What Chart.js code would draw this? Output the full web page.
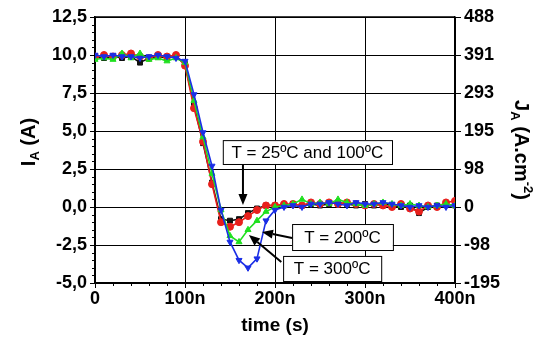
<!DOCTYPE html>
<html>
<head>
<meta charset="utf-8">
<script src="https://cdn.jsdelivr.net/npm/chart.js@4.4.1/dist/chart.umd.min.js"></script>
<style>
  html, body { margin: 0; background: #fff; }
  #wrap { width: 545px; height: 341px; position: relative; }
</style>
</head>
<body>
<div id="wrap"><canvas id="graficoCorrente"></canvas></div>
<script>
// tempo in ns
const times = [0, 10, 20, 30, 40, 50, 60, 70, 80, 90,
  100, 110, 120, 130, 140, 150, 160, 170, 180, 190, 200,
  210, 220, 230, 240, 250, 260, 270, 280, 290, 300,
  310, 320, 330, 340, 350, 360, 370, 380, 390, 400];

// I_A (A) per temperatura
const ia25 = [9.9, 9.8, 9.9, 9.8, 9.9, 9.5, 9.8, 9.9, 9.8, 9.9,
  9.4, 6.7, 4.2, 1.6, -0.8, -0.9, -0.8, -0.4, -0.1, 0.1, 0.1,
  0.1, 0.2, 0.1, 0.2, 0.1, 0.2, 0.3, 0.2, 0.1, 0.2,
  0.1, 0.2, 0.1, 0.0, 0.1, -0.4, 0.0, 0.1, 0.2, 0.1];
const ia100 = [9.9, 10.0, 9.9, 10.0, 10.1, 9.9, 9.8, 10.0, 9.9, 10.0,
  9.3, 6.5, 4.3, 1.5, -1.0, -1.3, -1.0, -0.6, -0.2, 0.1, 0.1,
  0.2, 0.2, 0.1, 0.3, 0.2, 0.3, 0.2, 0.3, 0.2, 0.1,
  0.2, 0.1, 0.0, 0.2, -0.1, -0.3, 0.1, 0.0, 0.3, 0.4];
const ia200 = [9.7, 9.8, 9.7, 10.1, 9.8, 10.1, 9.7, 9.8, 9.6, 9.8,
  9.5, 7.0, 4.6, 2.2, -0.2, -1.9, -2.3, -1.5, -0.9, -0.3, 0.0,
  0.1, 0.2, 0.5, 0.2, 0.3, 0.2, 0.5, 0.3, 0.2, 0.1,
  0.2, 0.3, 0.2, 0.1, 0.2, 0.1, 0.0, 0.1, 0.2, 0.1];
const ia300 = [10.0, 9.9, 10.0, 9.9, 9.9, 9.8, 9.9, 10.0, 9.9, 9.8,
  9.6, 7.4, 4.9, 2.7, -0.2, -2.3, -3.5, -4.0, -3.4, -0.9, -0.2,
  0.0, 0.1, 0.0, 0.2, 0.2, 0.3, 0.2, 0.1, 0.3, 0.2,
  0.2, 0.3, 0.2, 0.1, 0.0, 0.1, 0.0, 0.1, 0.0, 0.1];

const xTickLabels = ['0', '100n', '200n', '300n', '400n'];
const yTickLabels = ['-5,0', '-2,5', '0,0', '2,5', '5,0', '7,5', '10,0', '12,5'];
const jTickLabels = ['-195', '-98', '0', '98', '195', '293', '391', '488'];

const FONT = "'Liberation Sans', Arial, sans-serif";

function punti(vals) {
  return times.map((t, i) => ({ x: t, y: vals[i] }));
}

function serie(vals, color, style, rot, order) {
  return {
    data: punti(vals),
    borderColor: color,
    backgroundColor: color,
    borderWidth: 1.6,
    pointStyle: style,
    pointRotation: rot,
    pointRadius: 3.5,
    pointBorderWidth: 1,
    tension: 0,
    order: order
  };
}

// riquadri e frecce (coordinate in unita' dei dati)
function arrow(ctx, x1, y1, x2, y2) {
  const ang = Math.atan2(y2 - y1, x2 - x1);
  const L = 11, W = 4.5;
  ctx.beginPath();
  ctx.moveTo(x1, y1);
  ctx.lineTo(x2 - L * Math.cos(ang), y2 - L * Math.sin(ang));
  ctx.lineWidth = 2;
  ctx.stroke();
  ctx.beginPath();
  ctx.moveTo(x2, y2);
  ctx.lineTo(x2 - L * Math.cos(ang) + W * Math.sin(ang), y2 - L * Math.sin(ang) - W * Math.cos(ang));
  ctx.lineTo(x2 - L * Math.cos(ang) - W * Math.sin(ang), y2 - L * Math.sin(ang) + W * Math.cos(ang));
  ctx.closePath();
  ctx.fill();
}

function box(ctx, sx, sy, t1, t2, v1, v2, text) {
  const x1 = sx.getPixelForValue(t1), x2 = sx.getPixelForValue(t2);
  const y1 = sy.getPixelForValue(v1), y2 = sy.getPixelForValue(v2);
  ctx.fillStyle = '#fff';
  ctx.fillRect(x1, y1, x2 - x1, y2 - y1);
  ctx.lineWidth = 1;
  ctx.strokeRect(x1 + 0.5, y1 + 0.5, x2 - x1, y2 - y1);
  ctx.fillStyle = '#000';
  ctx.font = '17px ' + FONT;
  ctx.textAlign = 'center';
  ctx.textBaseline = 'middle';
  ctx.fillText(text, (x1 + x2) / 2, (y1 + y2) / 2 + 1);
}

// testo con pedice / apice
function richText(ctx, parts, cx, cy, size) {
  let w = 0;
  parts.forEach(p => {
    ctx.font = 'bold ' + (p.s ? size * 0.65 : size) + 'px ' + FONT;
    p.w = ctx.measureText(p.t).width;
    w += p.w;
  });
  let x = cx - w / 2;
  ctx.textAlign = 'left';
  ctx.textBaseline = 'middle';
  parts.forEach(p => {
    ctx.font = 'bold ' + (p.s ? size * 0.65 : size) + 'px ' + FONT;
    const dy = p.s === 'sub' ? size * 0.3 : (p.s === 'sup' ? -size * 0.35 : 0);
    ctx.fillText(p.t, x, cy + dy);
    x += p.w;
  });
}

const extras = {
  id: 'extras',
  afterDatasetsDraw(chart) {
    const { ctx, chartArea: a, scales } = chart;
    const sx = scales.x, sy = scales.y;
    ctx.save();
    ctx.strokeStyle = '#000';
    ctx.fillStyle = '#000';
    // bordo superiore
    ctx.lineWidth = 1.5;
    ctx.beginPath();
    ctx.moveTo(a.left, a.top);
    ctx.lineTo(a.right, a.top);
    ctx.stroke();
    // tacche minori
    ctx.lineWidth = 1;
    for (let v = -5; v <= 12.5; v += 0.5) {
      if (Math.abs(v % 2.5) < 1e-6) continue;
      const py = Math.round(sy.getPixelForValue(v)) + 0.5;
      ctx.beginPath();
      ctx.moveTo(a.left - 3, py);
      ctx.lineTo(a.left, py);
      ctx.stroke();
    }
    for (let t = 0; t <= 400; t += 20) {
      if (t % 100 === 0) continue;
      const px = Math.round(sx.getPixelForValue(t)) + 0.5;
      ctx.beginPath();
      ctx.moveTo(px, a.bottom);
      ctx.lineTo(px, a.bottom + 3);
      ctx.stroke();
    }
    // annotazioni
    ctx.strokeStyle = '#000';
    box(ctx, sx, sy, 142, 330, 4.4, 2.83, 'T = 25\u00baC and 100\u00baC');
    box(ctx, sx, sy, 219, 331, -1.12, -2.83, 'T = 200\u00baC');
    box(ctx, sx, sy, 209, 318, -3.22, -4.87, 'T = 300\u00baC');
    ctx.fillStyle = '#000';
    arrow(ctx, sx.getPixelForValue(164.4), sy.getPixelForValue(2.83), sx.getPixelForValue(164.4), sy.getPixelForValue(0.13));
    arrow(ctx, sx.getPixelForValue(219), sy.getPixelForValue(-2.04), sx.getPixelForValue(185.5), sy.getPixelForValue(-1.64));
    arrow(ctx, sx.getPixelForValue(207), sy.getPixelForValue(-3.62), sx.getPixelForValue(171), sy.getPixelForValue(-1.84));

    // titoli degli assi
    ctx.fillStyle = '#000';
    richText(ctx, [{ t: 'time (s)' }], (a.left + a.right) / 2, 326, 19);
    ctx.save();
    ctx.translate(29, 142);
    ctx.rotate(-Math.PI / 2);
    richText(ctx, [{ t: 'I' }, { t: 'A', s: 'sub' }, { t: ' (A)' }], 0, 0, 20);
    ctx.restore();
    ctx.save();
    ctx.translate(521, 150);
    ctx.rotate(Math.PI / 2);
    richText(ctx, [{ t: 'J' }, { t: 'A', s: 'sub' }, { t: ' (A.cm' }, { t: '-2', s: 'sup' }, { t: ')' }], 0, 0, 20);
    ctx.restore();
    ctx.restore();
  }
};

const tickFont = { family: FONT, size: 18, weight: 'bold' };

new Chart(document.getElementById('graficoCorrente').getContext('2d'), {
  type: 'line',
  data: {
    datasets: [
      serie(ia300, '#1a2ee6', 'triangle', 180, 0),
      serie(ia200, '#1fe01f', 'triangle', 0, 1),
      serie(ia100, '#e8201c', 'circle', 0, 2),
      serie(ia25, '#111111', 'rect', 0, 3)
    ]
  },
  options: {
    responsive: true,
    maintainAspectRatio: false,
    animation: false,
    layout: { padding: { top: 17, left: 0, right: 0, bottom: 0 } },
    plugins: {
      legend: { display: false },
      tooltip: { enabled: false }
    },
    scales: {
      x: {
        type: 'linear',
        min: 0, max: 400,
        ticks: {
          stepSize: 100,
          callback: v => xTickLabels[Math.round(v / 100)],
          font: tickFont, color: '#000', maxRotation: 0, padding: 0
        },
        grid: { color: '#000', lineWidth: 1, tickLength: 5, tickColor: '#000' },
        border: { color: '#000', width: 1.5 },
        afterFit(s) { s.height = 58; }
      },
      y: {
        position: 'left',
        min: -5, max: 12.5,
        ticks: {
          stepSize: 2.5,
          callback: v => yTickLabels[Math.round((v + 5) / 2.5)],
          font: tickFont, color: '#000', padding: 3
        },
        grid: { color: '#000', lineWidth: 1, tickLength: 5, tickColor: '#000' },
        border: { color: '#000', width: 1.5 },
        afterFit(s) { s.width = 95; }
      },
      y2: {
        position: 'right',
        min: -5, max: 12.5,
        ticks: {
          stepSize: 2.5,
          callback: v => jTickLabels[Math.round((v + 5) / 2.5)],
          font: tickFont, color: '#000', padding: 3
        },
        grid: { drawOnChartArea: false, tickLength: 6, tickColor: '#000' },
        border: { color: '#000', width: 1.5 },
        afterFit(s) { s.width = 90; }
      }
    }
  },
  plugins: [extras]
});
</script>
</body>
</html>
